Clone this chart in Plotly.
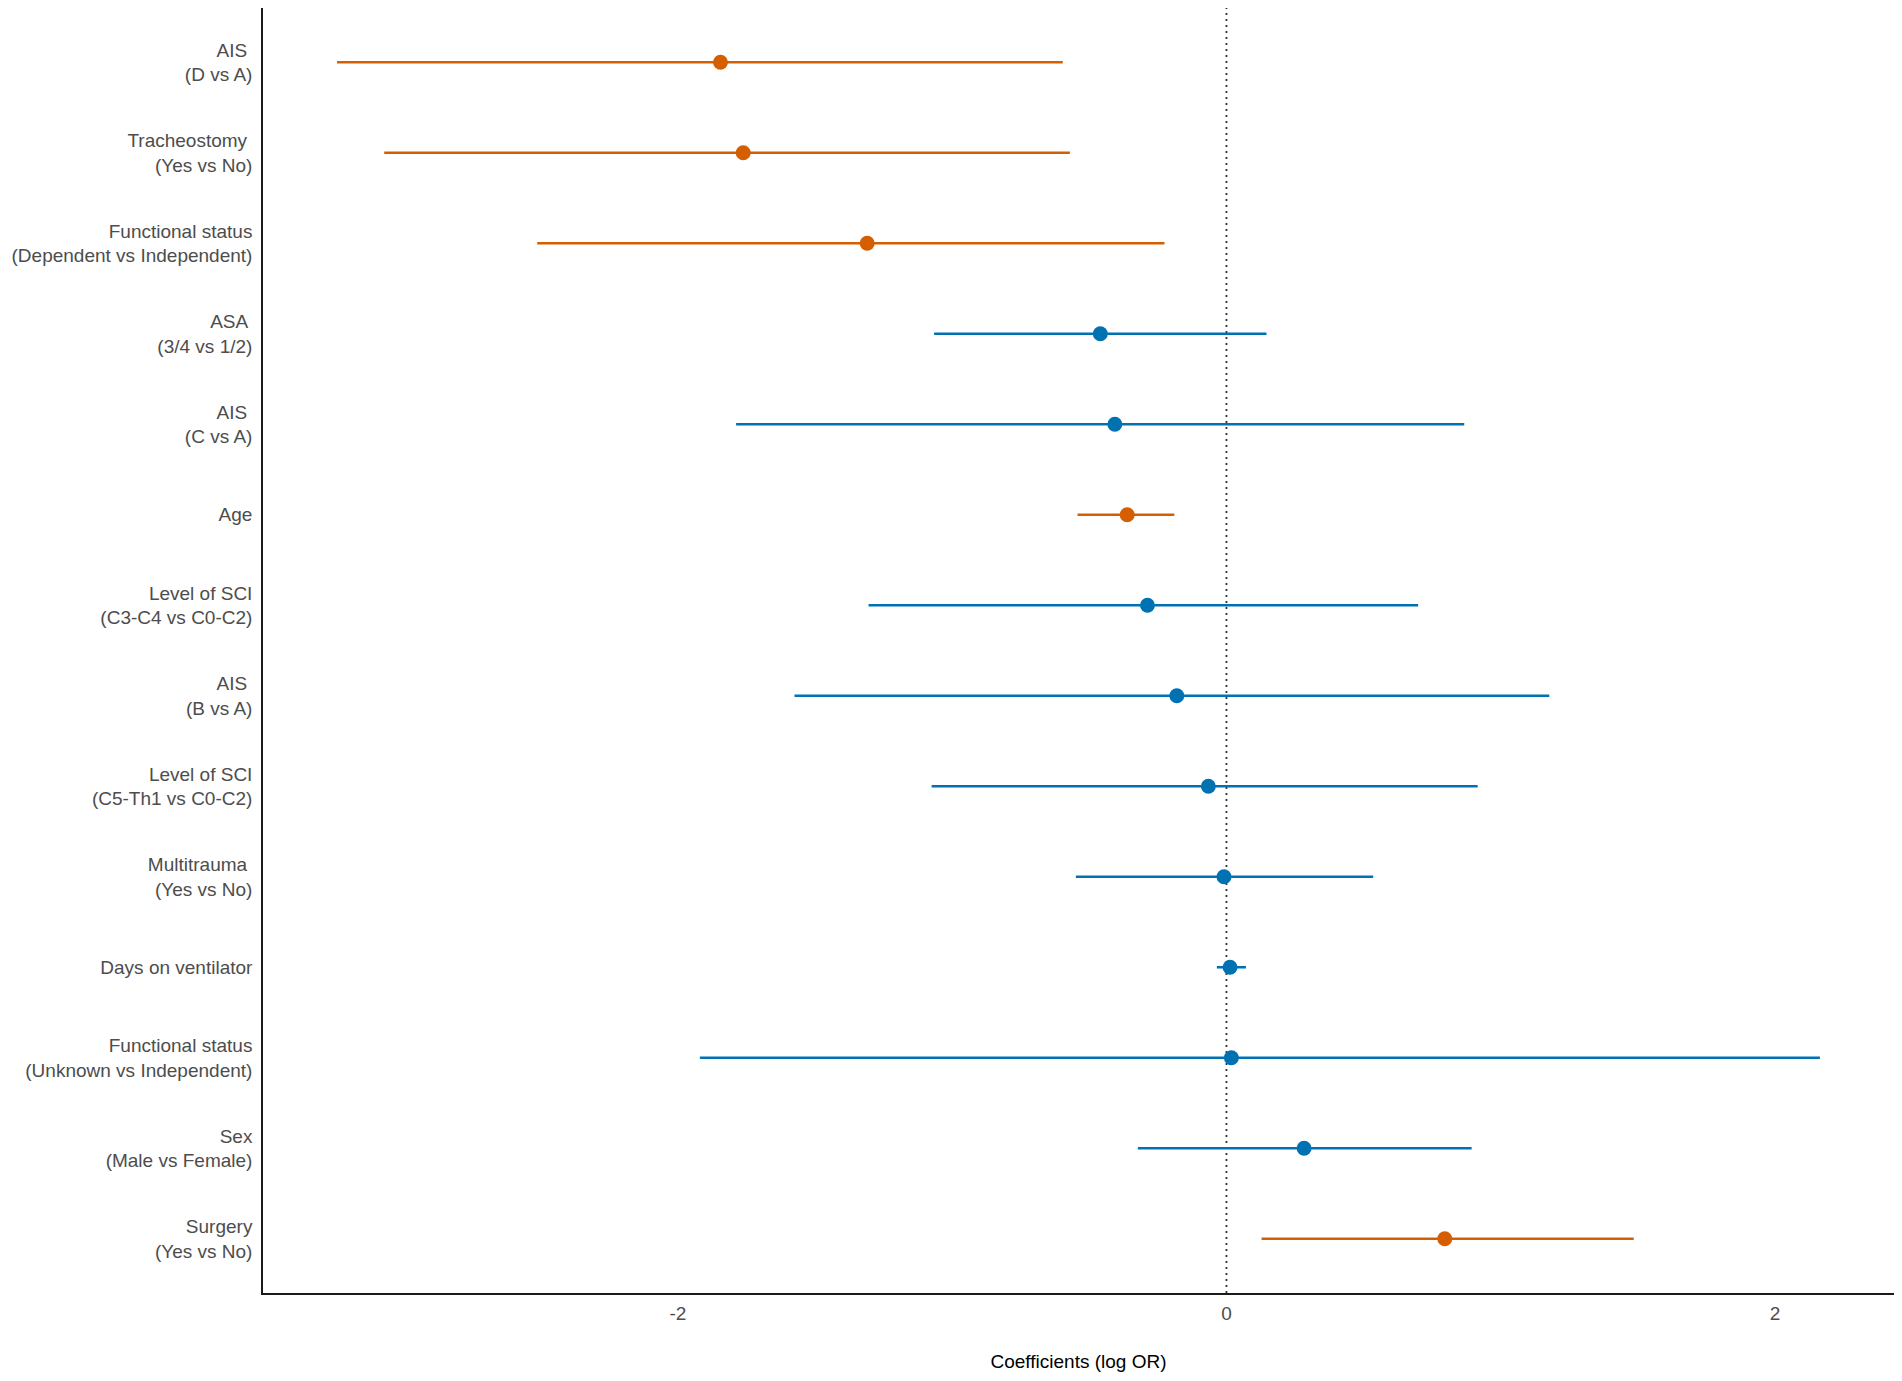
import plotly.graph_objects as go

# Predictors, listed top to bottom as in the figure
labels = [
    "AIS <br>(D vs A)",
    "Tracheostomy <br>(Yes vs No)",
    "Functional status<br>(Dependent vs Independent)",
    "ASA <br>(3/4 vs 1/2)",
    "AIS <br>(C vs A)",
    "Age",
    "Level of SCI<br>(C3-C4 vs C0-C2)",
    "AIS <br>(B vs A)",
    "Level of SCI<br>(C5-Th1 vs C0-C2)",
    "Multitrauma <br>(Yes vs No)",
    "Days on ventilator",
    "Functional status<br>(Unknown vs Independent)",
    "Sex<br>(Male vs Female)",
    "Surgery<br>(Yes vs No)",
]

# log OR estimates and 95% CI bounds
estimate = [-1.845, -1.762, -1.310, -0.460, -0.407, -0.362, -0.288, -0.181,
            -0.066, -0.009, 0.013, 0.018, 0.283, 0.796]
ci_low = [-3.243, -3.071, -2.513, -1.066, -1.788, -0.543, -1.305, -1.575,
          -1.075, -0.549, -0.035, -1.920, -0.323, 0.128]
ci_high = [-0.597, -0.571, -0.226, 0.146, 0.867, -0.190, 0.699, 1.177,
           0.916, 0.535, 0.071, 2.164, 0.894, 1.485]

x_ticks = [-2, 0, 2]
x_ticklabels = ["-2", "0", "2"]

ORANGE = "#D55E00"
BLUE = "#0072B2"

fig = go.Figure()

# split into significant (CI excludes 0) and non-significant
for sig, color in [(False, BLUE), (True, ORANGE)]:
    idx = [i for i in range(len(labels)) if ((ci_high[i] < 0 or ci_low[i] > 0) == sig)]
    fig.add_trace(go.Scatter(
        x=[estimate[i] for i in idx],
        y=[labels[i] for i in idx],
        mode="markers",
        marker=dict(color=color, size=15),
        error_x=dict(
            type="data",
            symmetric=False,
            array=[ci_high[i] - estimate[i] for i in idx],
            arrayminus=[estimate[i] - ci_low[i] for i in idx],
            color=color,
            thickness=2.6,
            width=0,
        ),
        showlegend=False,
    ))

# reference line at zero
fig.add_vline(x=0, line=dict(color="#333333", width=1.8, dash="2px,4px"), layer="below")

# the page body has an 8px margin, so the figure is sized a bit smaller
fig.update_layout(
    width=1894,
    height=1373,
    plot_bgcolor="white",
    paper_bgcolor="white",
    font=dict(family="Liberation Sans, Arial, sans-serif", size=19, color="#4D4D4D"),
    margin=dict(l=255, r=8, t=0, b=88),
    xaxis=dict(
        range=[-3.513, 2.434],
        tickvals=x_ticks,
        ticktext=x_ticklabels,
        showgrid=False,
        zeroline=False,
        showline=True,
        linecolor="#1a1a1a",
        linewidth=1.6,
        ticks="",
        ticklabelstandoff=2,
        title=dict(text="Coefficients (log OR)", font=dict(color="black", size=19), standoff=32),
    ),
    yaxis=dict(
        type="category",
        categoryorder="array",
        categoryarray=labels,
        range=[len(labels) - 0.4, -0.6],
        showgrid=False,
        zeroline=False,
        showline=True,
        linecolor="#1a1a1a",
        linewidth=1.6,
        ticks="",
        ticklabelstandoff=5,
    ),
)

fig.write_html("out.html")
